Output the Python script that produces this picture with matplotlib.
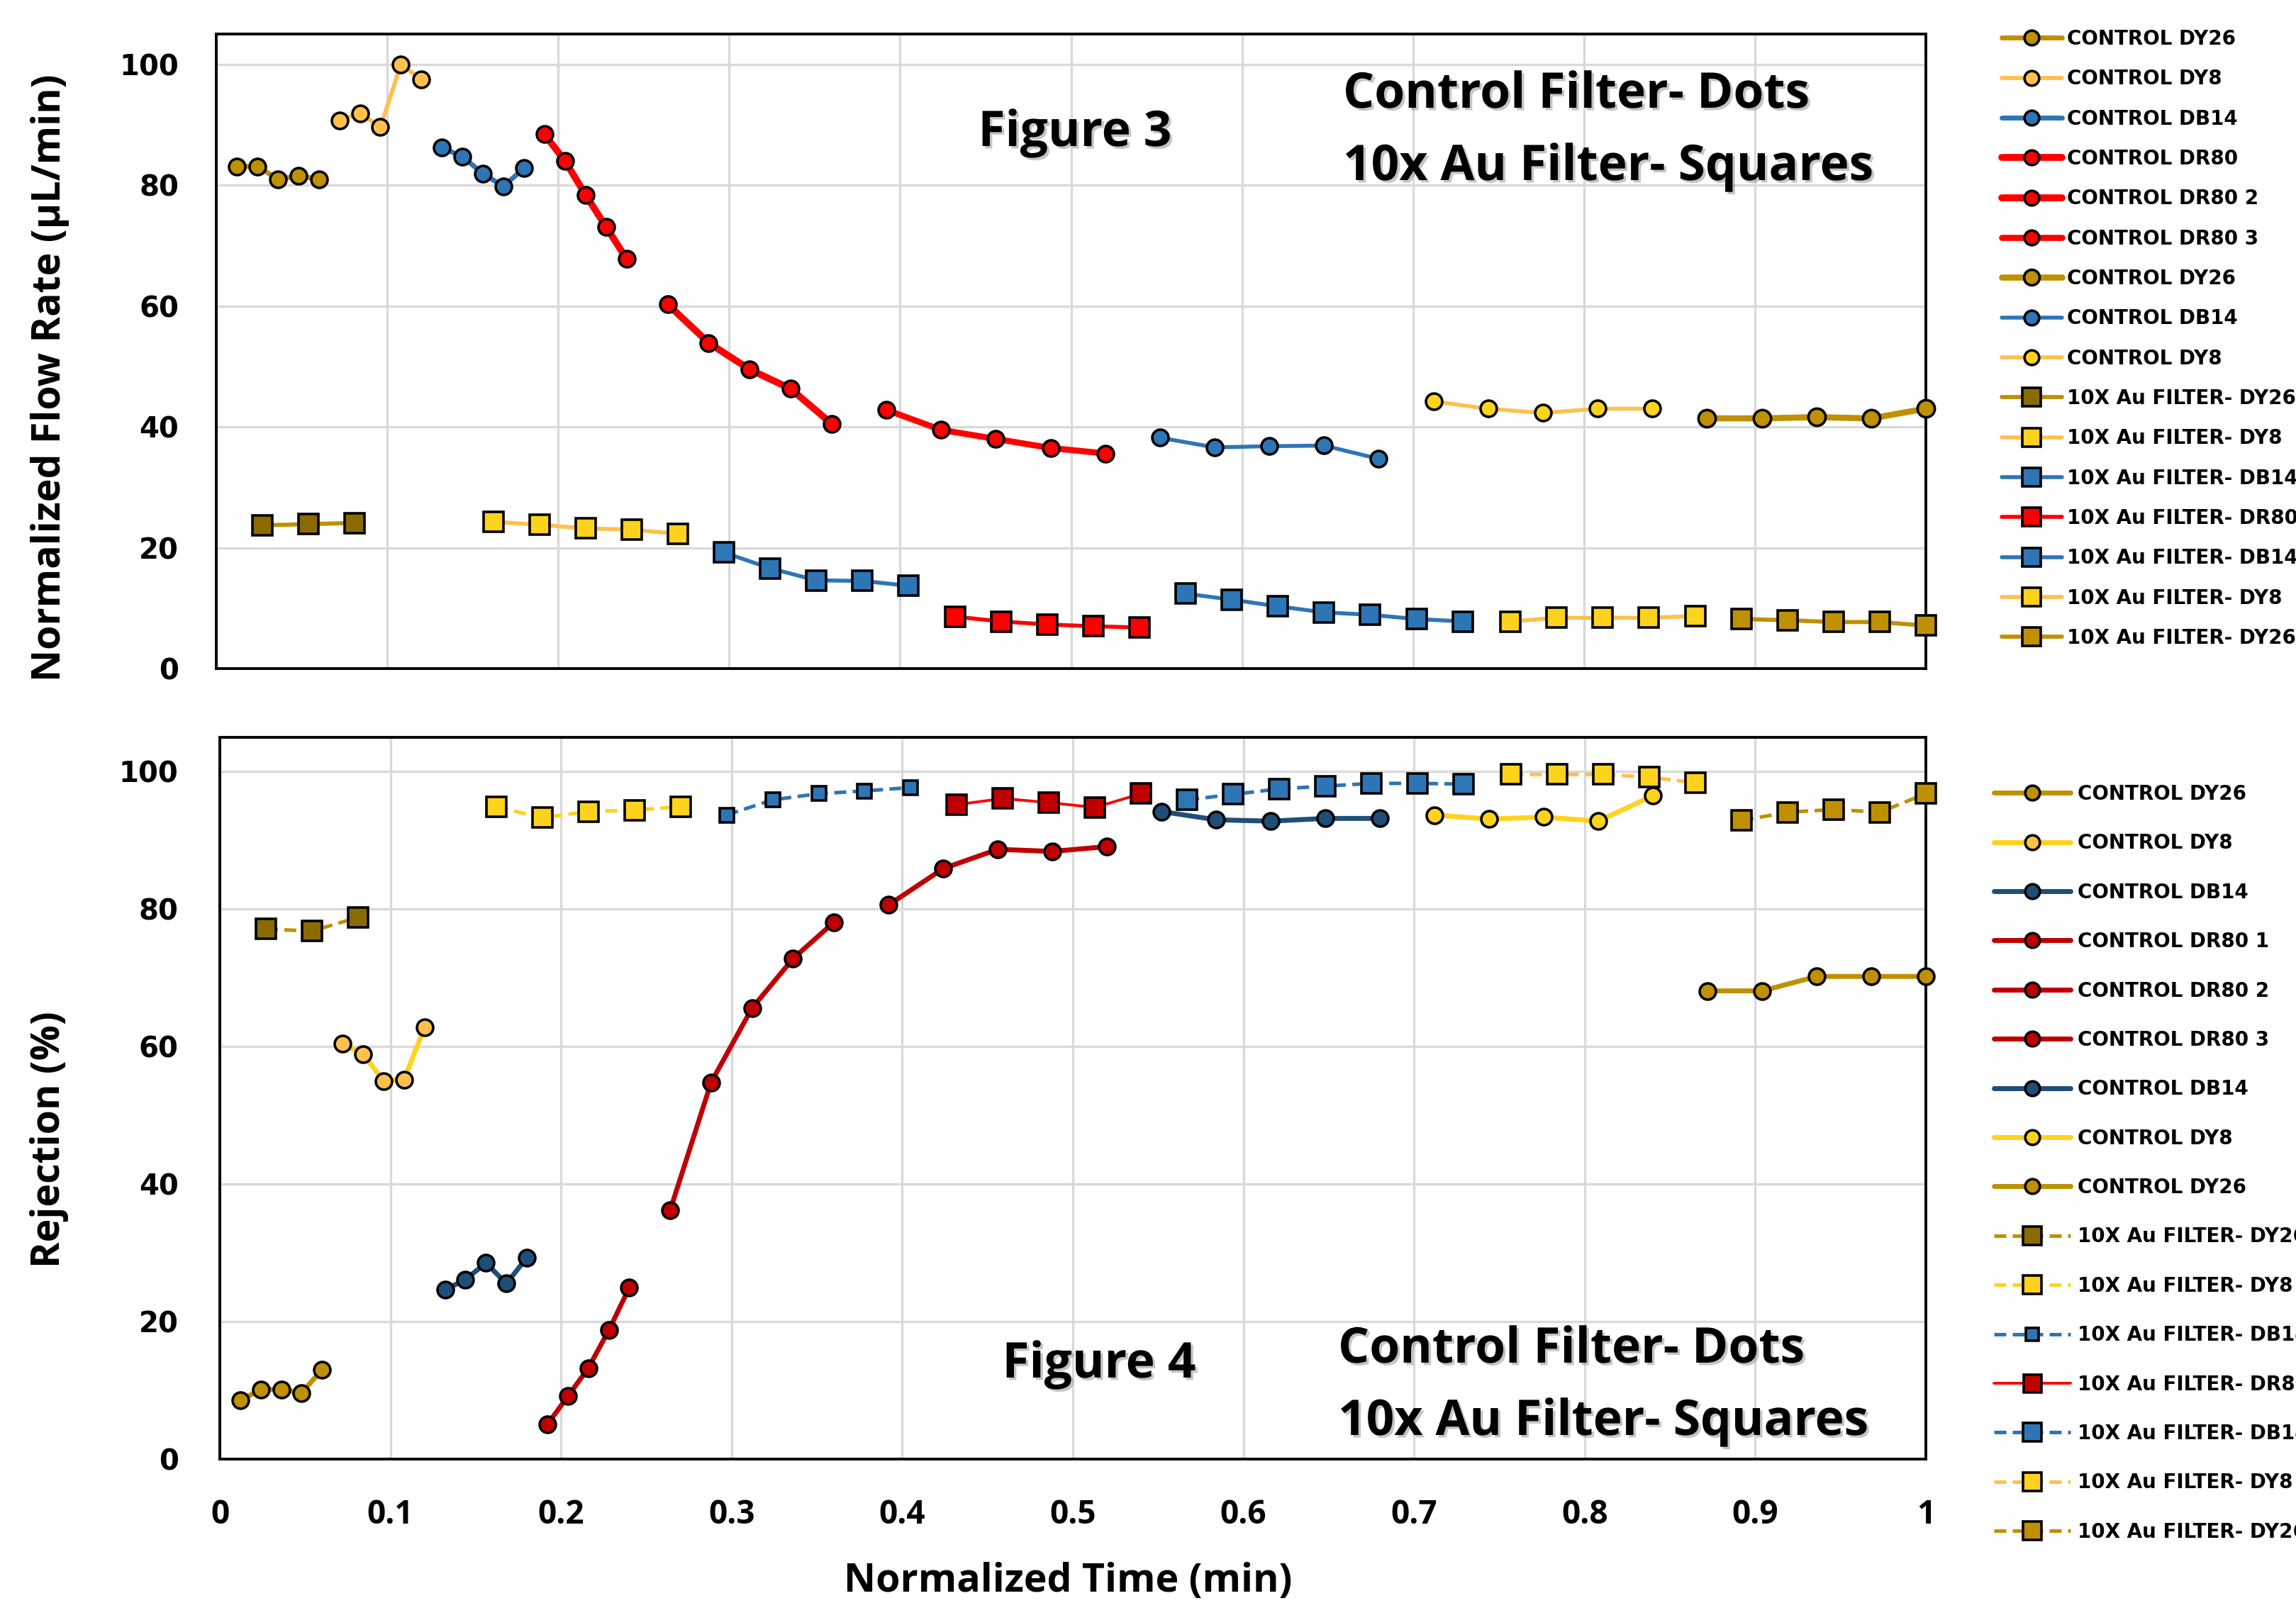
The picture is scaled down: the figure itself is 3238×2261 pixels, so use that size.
import matplotlib
matplotlib.use("Agg")
import matplotlib.pyplot as plt
import matplotlib.patheffects as pe
from matplotlib.ticker import MultipleLocator, FuncFormatter

# ---------------- data ----------------
# normalized time for each run segment
x_ctrl_dy26_1 = [0.012, 0.024, 0.036, 0.048, 0.060]
x_ctrl_dy8_1 = [0.072, 0.084, 0.096, 0.108, 0.120]
x_ctrl_db14_1 = [0.132, 0.144, 0.156, 0.168, 0.180]
x_ctrl_dr80_1 = [0.192, 0.204, 0.216, 0.228, 0.240]
x_ctrl_dr80_2 = [0.264, 0.288, 0.312, 0.336, 0.360]
x_ctrl_dr80_3 = [0.392, 0.424, 0.456, 0.488, 0.520]
x_ctrl_db14_2 = [0.552, 0.584, 0.616, 0.648, 0.680]
x_ctrl_dy8_2 = [0.712, 0.744, 0.776, 0.808, 0.840]
x_ctrl_dy26_2 = [0.872, 0.904, 0.936, 0.968, 1.000]
x_au_dy26_1 = [0.027, 0.054, 0.081]
x_au_dy8_1 = [0.162, 0.189, 0.216, 0.243, 0.270]
x_au_db14_1 = [0.297, 0.324, 0.351, 0.378, 0.405]
x_au_dr80 = [0.432, 0.459, 0.486, 0.513, 0.540]
x_au_db14_2 = [0.567, 0.594, 0.621, 0.648, 0.675, 0.702, 0.729]
x_au_dy8_2 = [0.757, 0.784, 0.811, 0.838, 0.865]
x_au_dy26_2 = [0.892, 0.919, 0.946, 0.973, 1.000]

# Figure 3: normalized flow rate (uL/min)
flow_ctrl_dy26_1 = [83.1, 83.1, 81.0, 81.5, 81.0]
flow_ctrl_dy8_1 = [90.7, 91.9, 89.6, 100.0, 97.5]
flow_ctrl_db14_1 = [86.2, 84.7, 81.9, 79.8, 82.8]
flow_ctrl_dr80_1 = [88.4, 84.0, 78.4, 73.1, 67.8]
flow_ctrl_dr80_2 = [60.3, 53.9, 49.5, 46.3, 40.5]
flow_ctrl_dr80_3 = [42.8, 39.5, 38.0, 36.5, 35.6]
flow_ctrl_dy26_2 = [41.4, 41.4, 41.6, 41.4, 43.0]
flow_ctrl_db14_2 = [38.2, 36.6, 36.8, 36.9, 34.7]
flow_ctrl_dy8_2 = [44.2, 43.0, 42.3, 43.0, 43.0]
flow_au_dy26_1 = [23.7, 23.9, 24.1]
flow_au_dy8_1 = [24.3, 23.8, 23.2, 23.0, 22.3]
flow_au_db14_1 = [19.2, 16.6, 14.6, 14.5, 13.7]
flow_au_dr80 = [8.6, 7.8, 7.3, 7.0, 6.8]
flow_au_db14_2 = [12.4, 11.4, 10.3, 9.3, 8.9, 8.2, 7.8]
flow_au_dy8_2 = [7.8, 8.4, 8.4, 8.4, 8.7]
flow_au_dy26_2 = [8.2, 8.0, 7.7, 7.7, 7.1]

# Figure 4: rejection (%)
rej_ctrl_dy26_1 = [8.5, 10.1, 10.1, 9.6, 13.0]
rej_ctrl_dy8_1 = [60.4, 58.9, 55.0, 55.2, 62.8]
rej_ctrl_db14_1 = [24.6, 26.1, 28.5, 25.5, 29.3]
rej_ctrl_dr80_1 = [5.0, 9.1, 13.2, 18.7, 24.9]
rej_ctrl_dr80_2 = [36.2, 54.8, 65.6, 72.8, 78.1]
rej_ctrl_dr80_3 = [80.6, 85.9, 88.7, 88.4, 89.1]
rej_ctrl_db14_2 = [94.2, 93.0, 92.8, 93.2, 93.2]
rej_ctrl_dy8_2 = [93.7, 93.1, 93.4, 92.8, 96.5]
rej_ctrl_dy26_2 = [68.1, 68.1, 70.2, 70.2, 70.2]
rej_au_dy26_1 = [77.1, 76.8, 78.8]
rej_au_dy8_1 = [94.9, 93.3, 94.2, 94.4, 94.9]
rej_au_db14_1 = [93.7, 95.9, 96.8, 97.2, 97.7]
rej_au_dr80 = [95.2, 96.1, 95.5, 94.8, 96.8]
rej_au_db14_2 = [95.9, 96.7, 97.5, 97.9, 98.3, 98.3, 98.2]
rej_au_dy8_2 = [99.6, 99.6, 99.6, 99.2, 98.4]
rej_au_dy26_2 = [92.9, 94.1, 94.5, 94.1, 96.8]

labels_top = ["CONTROL DY26", "CONTROL DY8", "CONTROL DB14", "CONTROL DR80",
              "CONTROL DR80 2", "CONTROL DR80 3", "CONTROL DY26", "CONTROL DB14",
              "CONTROL DY8", "10X Au FILTER- DY26", "10X Au FILTER- DY8",
              "10X Au FILTER- DB14", "10X Au FILTER- DR80", "10X Au FILTER- DB14",
              "10X Au FILTER- DY8", "10X Au FILTER- DY26"]
labels_bottom = ["CONTROL DY26", "CONTROL DY8", "CONTROL DB14", "CONTROL DR80 1",
                 "CONTROL DR80 2", "CONTROL DR80 3", "CONTROL DB14", "CONTROL DY8",
                 "CONTROL DY26", "10X Au FILTER- DY26", "10X Au FILTER- DY8",
                 "10X Au FILTER- DB14", "10X Au FILTER- DR80", "10X Au FILTER- DB14",
                 "10X Au FILTER- DY8", "10X Au FILTER- DY26"]
y_ticks = [0, 20, 40, 60, 80, 100]
x_ticks = [0, 0.1, 0.2, 0.3, 0.4, 0.5, 0.6, 0.7, 0.8, 0.9, 1.0]

# ---------------- styles ----------------
GOLD = "#BF9000"
DKGOLD = "#8B6B00"
LORANGE = "#FFC04C"
YELLOW = "#FFD21C"
BLUE = "#2E75B6"
NAVY = "#1F4E79"
RED = "#FF0000"
DRED = "#C00000"

CAL = "Open Sans"
WIDE = "DejaVu Sans"

W, H = 3238, 2261
fig = plt.figure(figsize=(W / 100, H / 100), dpi=100)
fig.patch.set_facecolor("white")

ax1 = fig.add_axes([305 / W, 1 - 943 / H, 2411 / W, 895 / H])
ax2 = fig.add_axes([310 / W, 1 - 2057.6 / H, 2406 / W, 1017.6 / H])

CM = 16.5   # circle marker size
SM = 20.5   # square marker size

# (x, y, marker, face, line colour, lw, ms, dashed)
top_series = [
    (x_ctrl_dy26_1, flow_ctrl_dy26_1, "o", GOLD, GOLD, 5.0, CM, False),
    (x_ctrl_dy8_1, flow_ctrl_dy8_1, "o", LORANGE, LORANGE, 4.2, CM, False),
    (x_ctrl_db14_1, flow_ctrl_db14_1, "o", BLUE, BLUE, 5.0, CM, False),
    (x_ctrl_dr80_1, flow_ctrl_dr80_1, "o", RED, RED, 7.0, CM, False),
    (x_ctrl_dr80_2, flow_ctrl_dr80_2, "o", RED, RED, 7.0, CM, False),
    (x_ctrl_dr80_3, flow_ctrl_dr80_3, "o", RED, RED, 6.2, CM, False),
    (x_ctrl_dy26_2, flow_ctrl_dy26_2, "o", GOLD, GOLD, 6.2, CM + 1, False),
    (x_ctrl_db14_2, flow_ctrl_db14_2, "o", BLUE, BLUE, 4.0, CM, False),
    (x_ctrl_dy8_2, flow_ctrl_dy8_2, "o", YELLOW, LORANGE, 4.0, CM, False),
    (x_au_dy26_1, flow_au_dy26_1, "s", DKGOLD, GOLD, 4.2, SM, False),
    (x_au_dy8_1, flow_au_dy8_1, "s", YELLOW, LORANGE, 4.0, SM, False),
    (x_au_db14_1, flow_au_db14_1, "s", BLUE, BLUE, 4.0, SM, False),
    (x_au_dr80, flow_au_dr80, "s", RED, RED, 4.0, SM, False),
    (x_au_db14_2, flow_au_db14_2, "s", BLUE, BLUE, 4.0, SM, False),
    (x_au_dy8_2, flow_au_dy8_2, "s", YELLOW, LORANGE, 4.0, SM, False),
    (x_au_dy26_2, flow_au_dy26_2, "s", GOLD, GOLD, 4.2, SM, False),
]
bottom_series = [
    (x_ctrl_dy26_1, rej_ctrl_dy26_1, "o", GOLD, GOLD, 5.0, CM, False),
    (x_ctrl_dy8_1, rej_ctrl_dy8_1, "o", LORANGE, YELLOW, 5.0, CM, False),
    (x_ctrl_db14_1, rej_ctrl_db14_1, "o", NAVY, NAVY, 5.0, CM, False),
    (x_ctrl_dr80_1, rej_ctrl_dr80_1, "o", DRED, DRED, 5.0, CM, False),
    (x_ctrl_dr80_2, rej_ctrl_dr80_2, "o", DRED, DRED, 5.0, CM, False),
    (x_ctrl_dr80_3, rej_ctrl_dr80_3, "o", DRED, DRED, 5.0, CM, False),
    (x_ctrl_db14_2, rej_ctrl_db14_2, "o", NAVY, NAVY, 5.0, CM, False),
    (x_ctrl_dy8_2, rej_ctrl_dy8_2, "o", YELLOW, YELLOW, 5.0, CM, False),
    (x_ctrl_dy26_2, rej_ctrl_dy26_2, "o", GOLD, GOLD, 5.0, CM, False),
    (x_au_dy26_1, rej_au_dy26_1, "s", DKGOLD, GOLD, 3.6, SM, True),
    (x_au_dy8_1, rej_au_dy8_1, "s", YELLOW, YELLOW, 3.6, SM, True),
    (x_au_db14_1, rej_au_db14_1, "s", BLUE, BLUE, 3.6, 15, True),
    (x_au_dr80, rej_au_dr80, "s", DRED, RED, 2.8, SM - 0.5, False),
    (x_au_db14_2, rej_au_db14_2, "s", BLUE, BLUE, 3.6, SM, True),
    (x_au_dy8_2, rej_au_dy8_2, "s", YELLOW, LORANGE, 3.6, SM, True),
    (x_au_dy26_2, rej_au_dy26_2, "s", GOLD, GOLD, 3.6, SM, True),
]


def draw(ax, series, labels):
    handles = []
    for (x, y, m, face, lc, lw, ms, dashed), lab in zip(series, labels):
        kw = {}
        if dashed:
            kw["dashes"] = [3.4, 1.8]
        ln, = ax.plot(x, y, marker=m, color=lc, mfc=face, mec="black", mew=2.6,
                      lw=lw, ms=ms, label=lab, clip_on=False, zorder=3,
                      solid_capstyle="round", **kw)
        handles.append(ln)
    return handles


h1 = draw(ax1, top_series, labels_top)
h2 = draw(ax2, bottom_series, labels_bottom)

for ax in (ax1, ax2):
    ax.set_xlim(0, 1)
    ax.set_ylim(0, 105)
    ax.set_yticks(y_ticks)
    ax.xaxis.set_major_locator(MultipleLocator(0.1))
    ax.grid(True, color="#D9D9D9", lw=2.4, zorder=0)
    ax.set_axisbelow(True)
    for s in ax.spines.values():
        s.set_linewidth(2.8)
        s.set_color("black")
    ax.tick_params(length=0)
    for t in ax.get_yticklabels():
        t.set_fontfamily(WIDE)
        t.set_fontweight("bold")
        t.set_fontsize(29)

ax1.tick_params(axis="y", pad=38)
ax2.tick_params(axis="y", pad=42)
ax1.tick_params(axis="x", labelbottom=False)
ax2.set_xticks(x_ticks)
ax2.xaxis.set_major_formatter(FuncFormatter(lambda v, p: f"{v:g}"))
ax2.tick_params(axis="x", pad=40)
for t in ax2.get_xticklabels():
    t.set_fontfamily(CAL)
    t.set_fontweight("bold")
    t.set_fontsize(33)

ax1.set_ylabel("Normalized Flow Rate (µL/min)", fontfamily=CAL, fontweight="bold", fontsize=40)
ax1.yaxis.set_label_coords(-0.086, 0.458)
ax2.set_ylabel("Rejection (%)", fontfamily=CAL, fontweight="bold", fontsize=40)
ax2.yaxis.set_label_coords(-0.0885, 0.443)
ax2.set_xlabel("Normalized Time (min)", fontfamily=CAL, fontweight="bold", fontsize=40,
               va="center")
ax2.xaxis.set_label_coords(0.497, -0.170)

shadow = [pe.withSimplePatchShadow(offset=(2.5, -2.5), shadow_rgbFace="#7F7F7F", alpha=0.45)]
tkw = dict(fontfamily=CAL, fontweight="bold", fontsize=50, va="baseline", path_effects=shadow)
fig.text(1516 / W, 1 - 206 / H, "Figure 3", ha="center", **tkw)
fig.text(1894 / W, 1 - 152 / H, "Control Filter- Dots", ha="left", **tkw)
fig.text(1894 / W, 1 - 254 / H, "10x Au Filter- Squares", ha="left", **tkw)
fig.text(1550 / W, 1 - 1943 / H, "Figure 4", ha="center", **tkw)
fig.text(1887 / W, 1 - 1922 / H, "Control Filter- Dots", ha="left", **tkw)
fig.text(1887 / W, 1 - 2024 / H, "10x Au Filter- Squares", ha="left", **tkw)

lprop = {"family": WIDE, "weight": "bold", "size": 20}
leg1 = fig.legend(handles=h1, labels=labels_top, loc="upper left",
                  bbox_to_anchor=(2823 / W, 1 - 41 / H), frameon=False,
                  prop=lprop, handlelength=3.05, handletextpad=0.25,
                  labelspacing=1.02, borderpad=0, borderaxespad=0, markerscale=0.9)
leg2 = fig.legend(handles=h2, labels=labels_bottom, loc="upper left",
                  bbox_to_anchor=(2812 / W, 1 - 1106 / H), frameon=False,
                  prop=lprop, handlelength=3.9, handletextpad=0.35,
                  labelspacing=1.49, borderpad=0, borderaxespad=0, markerscale=0.9)

fig.savefig("out.png", dpi=100, facecolor="white")
